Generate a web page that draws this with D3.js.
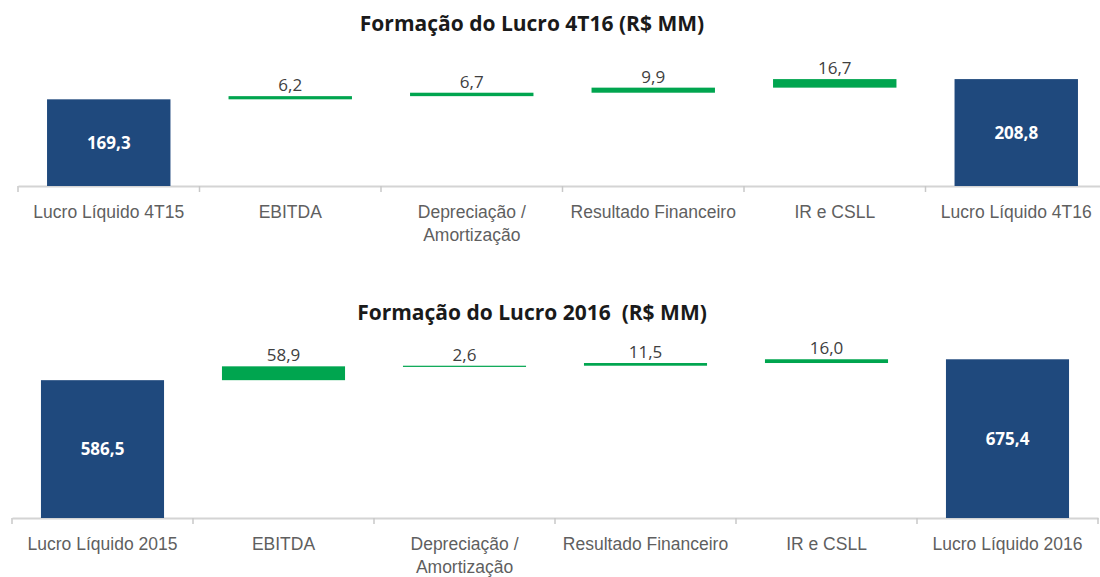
<!DOCTYPE html>
<html>
<head>
<meta charset="utf-8">
<script src="https://cdn.jsdelivr.net/npm/d3@7"></script>
<style>
  body { margin: 0; background: #fff; }
  svg { display: block; font-family: "Open Sans", Lato, sans-serif; }
</style>
</head>
<body>
<svg id="chart" width="1100" height="577"></svg>
<script>
// Formação do Lucro - data
const kinds = ['total', 'delta', 'delta', 'delta', 'delta', 'total'];

const cats4T16 = ['Lucro Líquido 4T15', 'EBITDA', 'Depreciação /\nAmortização', 'Resultado Financeiro', 'IR e CSLL', 'Lucro Líquido 4T16'];
const vals4T16 = [169.3, 6.2, 6.7, 9.9, 16.7, 208.8];

const cats2016 = ['Lucro Líquido 2015', 'EBITDA', 'Depreciação /\nAmortização', 'Resultado Financeiro', 'IR e CSLL', 'Lucro Líquido 2016'];
const vals2016 = [586.5, 58.9, 2.6, 11.5, 16.0, 675.4];

const blue = '#1f497d';
const green = '#00a54f';

const fmt = v => v.toFixed(1).replace('.', ',');

function waterfall(categories, values) {
  let running = 0;
  return categories.map((c, i) => {
    let y0, y1;
    if (kinds[i] === 'total') {
      y0 = 0; y1 = values[i]; running = values[i];
    } else {
      y0 = running; y1 = running + values[i]; running = y1;
    }
    return { cat: c, value: values[i], kind: kinds[i], y0: y0, y1: y1 };
  });
}

function drawChart(svg, opts) {
  const data = waterfall(opts.categories, opts.values);

  const x = d3.scaleBand()
    .domain(opts.categories)
    .range(opts.xRange)
    .paddingInner(0.32)
    .paddingOuter(0.16);

  const y = d3.scaleLinear()
    .domain([0, opts.yMax])
    .range([opts.base, opts.top]);

  const g = svg.append('g');

  g.append('text')
    .attr('x', 532)
    .attr('y', opts.titleY)
    .attr('text-anchor', 'middle')
    .attr('font-size', 21)
    .attr('font-weight', 'bold')
    .attr('fill', '#1a1a1a')
    .style('white-space', 'pre')
    .text(opts.title);

  // axis line + labels
  const axis = g.append('g')
    .attr('transform', `translate(0,${opts.base})`)
    .call(d3.axisBottom(x).tickSize(0).tickSizeOuter(0).tickPadding(0));

  axis.select('.domain').attr('stroke', '#d4d4d4').attr('stroke-width', 2);
  axis.selectAll('.tick text').remove();
  axis.selectAll('.tick').each(function (d) {
    const t = d3.select(this).append('text')
      .attr('fill', '#5f5f5f')
      .attr('font-size', 17.5)
      .attr('text-anchor', 'middle')
      .attr('y', 32);
    d.split('\n').forEach((line, i) => {
      t.append('tspan').attr('x', 0).attr('dy', i === 0 ? 0 : 23).text(line);
    });
  });

  // boundary ticks between categories
  const gap = (x.step() - x.bandwidth()) / 2;
  const bounds = opts.categories.map(c => x(c) - gap);
  bounds.push(x(opts.categories[opts.categories.length - 1]) + x.bandwidth() + gap);
  axis.selectAll('line.bound')
    .data(bounds)
    .enter()
    .append('line')
      .classed('bound', true)
      .attr('x1', d => d).attr('x2', d => d)
      .attr('y1', 0).attr('y2', 6)
      .attr('stroke', '#c8c8c8')
      .attr('stroke-width', 1.5);

  // bars
  g.append('g')
    .selectAll('rect')
    .data(data)
    .enter()
    .append('rect')
      .attr('x', d => x(d.cat))
      .attr('width', x.bandwidth())
      .attr('y', d => y(d.y1))
      .attr('height', d => Math.max(1.2, y(d.y0) - y(d.y1)))
      .attr('fill', d => d.kind === 'total' ? blue : green);

  // labels
  g.append('g')
    .selectAll('text')
    .data(data)
    .enter()
    .append('text')
      .attr('x', d => x(d.cat) + x.bandwidth() / 2)
      .attr('y', d => d.kind === 'total' ? (y(d.y0) + y(d.y1)) / 2 + 6 : y(d.y1) - 5)
      .attr('text-anchor', 'middle')
      .attr('font-size', 17)
      .attr('font-weight', d => d.kind === 'total' ? 'bold' : 'normal')
      .attr('fill', d => d.kind === 'total' ? '#ffffff' : '#404040')
      .text(d => fmt(d.value));
}

const svg = d3.select('#chart');

drawChart(svg, {
  title: 'Formação do Lucro 4T16 (R$ MM)',
  categories: cats4T16,
  values: vals4T16,
  xRange: [18, 1107],
  base: 186,
  top: 58,
  yMax: 250,
  titleY: 31
});

drawChart(svg, {
  title: 'Formação do Lucro 2016  (R$ MM)',
  categories: cats2016,
  values: vals2016,
  xRange: [12, 1098],
  base: 518,
  top: 330,
  yMax: 800,
  titleY: 320
});
</script>
</body>
</html>
